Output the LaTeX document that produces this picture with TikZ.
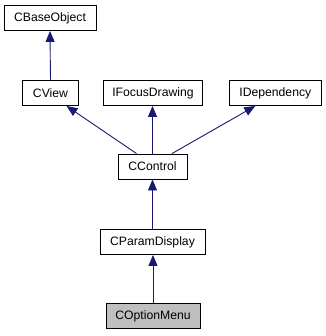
\documentclass[tikz,border=0pt]{standalone}
\usepackage{fontspec}
\setmainfont{Liberation Sans}
\usetikzlibrary{arrows.meta}
\definecolor{edgeblue}{HTML}{191970}
\definecolor{selfgray}{HTML}{BFBFBF}
\tikzset{
  cls/.style={draw=black, line width=0.9pt, fill=white, minimum height=25pt,
    inner xsep=0pt, inner ysep=0pt, font=\fontsize{12.2pt}{14pt}\selectfont},
  selfcls/.style={cls, fill=selfgray},
  inherit/.style={draw=edgeblue, line width=0.9pt,
    -{Triangle[length=11pt,width=9pt,fill=edgeblue]}}
}
\begin{document}
\begin{tikzpicture}[x=1pt,y=-1pt]
\useasboundingbox (0,0) rectangle (325,336);
% classes
\node[cls, minimum width=92pt]  (base)  at (50,18)    {CBaseObject};
\node[cls, minimum width=56pt]  (view)  at (50.5,93)  {CView};
\node[cls, minimum width=99pt]  (focus) at (153,93)   {IFocusDrawing};
\node[cls, minimum width=92pt]  (dep)   at (275.3,93) {IDependency};
\node[cls, minimum width=69pt]  (ctrl)  at (152.5,166.5) {CControl};
\node[cls, minimum width=105pt] (param) at (152.5,242) {CParamDisplay};
\node[selfcls, minimum width=94pt] (menu) at (153,316) {COptionMenu};
% inheritance
\draw[inherit] (view.north) -- (base.south);
\draw[inherit] ([xshift=-16pt]ctrl.north) -- ([xshift=16pt]view.south);
\draw[inherit] (ctrl.north) -- (ctrl.north |- focus.south);
\draw[inherit] ([xshift=19.5pt]ctrl.north) -- ([xshift=-20pt]dep.south);
\draw[inherit] (param.north) -- (param.north |- ctrl.south);
\draw[inherit] (menu.north) -- (menu.north |- param.south);
\end{tikzpicture}
\end{document}
